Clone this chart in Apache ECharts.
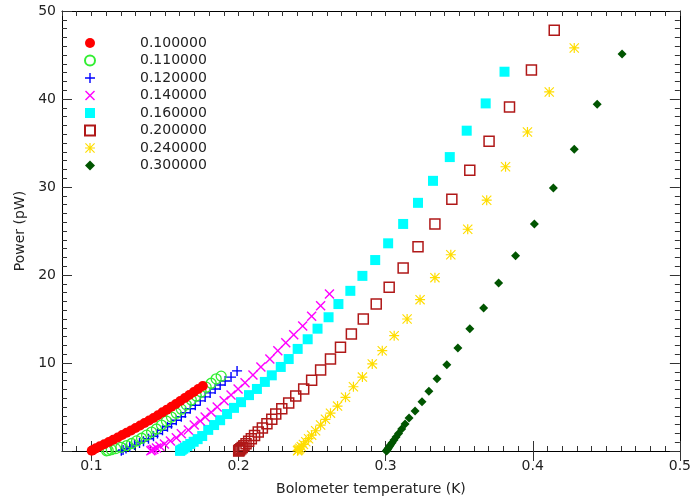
<!DOCTYPE html>
<html>
<head>
<meta charset="utf-8">
<script src="https://cdn.jsdelivr.net/npm/echarts@6/dist/echarts.min.js"></script>
<style>
  html, body { margin: 0; padding: 0; background: #fff; }
  #main { width: 694px; height: 502px; }
</style>
</head>
<body>
<div id="main"></div>
<script>
// bath temperatures (legend)
var names = ['0.100000', '0.110000', '0.120000', '0.140000', '0.160000', '0.200000', '0.240000', '0.300000'];
var xMajor = [0.1, 0.2, 0.3, 0.4, 0.5];

// [bolometer temperature (K), power (pW)]
var s010 = [[0.1002,0.02],[0.1010,0.10],[0.1030,0.30],[0.1057,0.53],[0.1087,0.77],[0.1118,1.02],[0.1148,1.27],[0.1179,1.53],
  [0.1209,1.82],[0.1239,2.07],[0.1270,2.34],[0.1300,2.61],[0.1331,2.90],[0.1361,3.18],[0.1392,3.47],[0.1422,3.76],
  [0.1452,4.07],[0.1483,4.39],[0.1513,4.70],[0.1544,5.02],[0.1574,5.34],[0.1604,5.68],[0.1635,6.02],[0.1665,6.36],
  [0.1696,6.70],[0.1726,7.05],[0.1757,7.39]];
var s011 = [[0.1103,0.02],[0.1114,0.07],[0.1135,0.15],[0.1165,0.27],[0.1200,0.42],[0.1240,0.62],[0.1273,0.85],[0.1307,1.15],
  [0.1341,1.45],[0.1375,1.80],[0.1409,2.15],[0.1442,2.50],[0.1476,2.95],[0.1510,3.40],[0.1544,3.85],[0.1577,4.30],
  [0.1611,4.75],[0.1645,5.25],[0.1679,5.80],[0.1713,6.25],[0.1746,6.70],[0.1780,7.25],[0.1814,7.70],[0.1848,8.20],
  [0.1882,8.50]];
var s012 = [[0.1203,0.03],[0.1215,0.12],[0.1235,0.27],[0.1260,0.45],[0.1293,0.68],[0.1327,0.92],[0.1354,1.12],[0.1388,1.40],
  [0.1422,1.68],[0.1449,1.98],[0.1483,2.35],[0.1517,2.75],[0.1544,3.10],[0.1577,3.50],[0.1611,3.90],[0.1638,4.35],
  [0.1672,4.80],[0.1706,5.20],[0.1740,5.70],[0.1773,6.15],[0.1807,6.60],[0.1841,7.05],[0.1875,7.50],[0.1909,7.95],
  [0.1949,8.40],[0.1990,9.10]];
var s014 = [[0.1404,0.03],[0.1412,0.10],[0.1424,0.20],[0.1442,0.35],[0.1466,0.55],[0.1496,0.80],[0.1537,1.15],[0.1577,1.50],
  [0.1611,1.95],[0.1659,2.40],[0.1699,2.95],[0.1740,3.40],[0.1773,3.85],[0.1814,4.40],[0.1855,5.00],[0.1902,5.70],
  [0.1949,6.35],[0.1997,7.05],[0.2044,7.75],[0.2098,8.65],[0.2152,9.55],[0.2213,10.45],[0.2267,11.40],[0.2321,12.30],
  [0.2375,13.20],[0.2436,14.20],[0.2497,15.30],[0.2558,16.50],[0.2618,17.85]];
var s016 = [[0.1602,0.02],[0.1606,0.07],[0.1614,0.15],[0.1624,0.26],[0.1636,0.40],[0.1652,0.58],[0.1672,0.80],[0.1695,1.05],
  [0.1722,1.35],[0.1753,1.70],[0.1794,2.40],[0.1834,2.95],[0.1875,3.50],[0.1922,4.20],[0.1969,4.90],[0.2017,5.55],
  [0.2071,6.35],[0.2125,7.05],[0.2179,7.85],[0.2226,8.60],[0.2287,9.55],[0.2341,10.45],[0.2402,11.60],[0.2470,12.70],
  [0.2537,13.90],[0.2612,15.20],[0.2679,16.70],[0.2760,18.20],[0.2842,19.90],[0.2929,21.70],[0.3017,23.60],[0.3119,25.80],
  [0.3220,28.20],[0.3322,30.70],[0.3436,33.40],[0.3551,36.40],[0.3680,39.50],[0.3808,43.10]];
var s020 = [[0.2001,0.01],[0.2003,0.05],[0.2008,0.13],[0.2016,0.25],[0.2025,0.40],[0.2037,0.60],[0.2051,0.82],[0.2069,1.10],
  [0.2087,1.40],[0.2109,1.75],[0.2134,2.15],[0.2162,2.60],[0.2193,3.10],[0.2226,3.60],[0.2253,4.20],[0.2294,4.80],
  [0.2341,5.45],[0.2389,6.25],[0.2443,7.05],[0.2497,8.05],[0.2558,9.20],[0.2625,10.45],[0.2693,11.80],[0.2767,13.30],
  [0.2848,15.00],[0.2936,16.70],[0.3024,18.60],[0.3119,20.80],[0.3220,23.20],[0.3335,25.80],[0.3450,28.60],[0.3572,31.90],
  [0.3703,35.20],[0.3842,39.10],[0.3991,43.30],[0.4146,47.80]];
var s024 = [[0.2401,0.02],[0.2404,0.08],[0.2410,0.18],[0.2417,0.32],[0.2427,0.50],[0.2441,0.75],[0.2457,1.05],[0.2476,1.40],
  [0.2497,1.80],[0.2524,2.30],[0.2558,2.95],[0.2591,3.60],[0.2625,4.30],[0.2673,5.10],[0.2727,6.10],[0.2781,7.30],
  [0.2842,8.40],[0.2909,9.90],[0.2977,11.40],[0.3058,13.10],[0.3146,15.00],[0.3234,17.20],[0.3335,19.70],[0.3443,22.30],
  [0.3558,25.20],[0.3687,28.50],[0.3815,32.30],[0.3964,36.25],[0.4112,40.80],[0.4282,45.80]];
var s030 = [[0.3005,0.01],[0.3007,0.04],[0.3009,0.10],[0.3013,0.20],[0.3019,0.33],[0.3026,0.50],[0.3034,0.70],[0.3044,0.95],
  [0.3057,1.25],[0.3071,1.60],[0.3088,2.00],[0.3109,2.50],[0.3132,3.07],[0.3159,3.75],[0.3200,4.55],[0.3247,5.60],
  [0.3294,6.80],[0.3349,8.20],[0.3416,9.80],[0.3491,11.70],[0.3572,13.90],[0.3666,16.25],[0.3768,19.10],[0.3883,22.20],
  [0.4011,25.80],[0.4140,29.90],[0.4282,34.30],[0.4438,39.40],[0.4607,45.10]];

var FONT = 'DejaVu Sans';
var TXT = '#222';

// IDL style plot symbols
var PLUS = 'path://M4.3,0H5.7V4.3H10V5.7H5.7V10H4.3V5.7H0V4.3H4.3Z';
var CROSS = 'path://M0,1L1,0L5,4L9,0L10,1L6,5L10,9L9,10L5,6L1,10L0,9L4,5Z';
var STAR = 'path://M4.4,0H5.6V10H4.4Z M0,4.4H10V5.6H0Z M0.8,0L10,9.2L9.2,10L0,0.8Z M9.2,0L10,0.8L0.8,10L0,9.2Z';

function mk(name, data, symbol, size, style) {
  style.opacity = 1;
  return {
    name: name, type: 'scatter', data: data,
    symbol: symbol, symbolSize: size,
    itemStyle: style,
    emphasis: { disabled: true },
    animation: false
  };
}

var isMajor = function (v) { return Math.abs(v * 10 - Math.round(v * 10)) < 1e-6; };

var xBase = { type: 'value', min: 0.08, max: 0.5, gridIndex: 0, splitLine: { show: false } };
var tickStyle = { color: '#333', width: 1 };

var myChart = echarts.init(document.getElementById('main'));
var option = {
  backgroundColor: '#fff',
  animation: false,
  textStyle: { fontFamily: FONT },
  grid: { left: 62, right: 11, top: 11, bottom: 51, containLabel: false },
  legend: {
    orient: 'vertical', left: 79, top: 31,
    itemWidth: 10, itemHeight: 10, itemGap: 3.5,
    data: names,
    selectedMode: false,
    textStyle: { fontFamily: FONT, fontSize: 14, color: TXT, padding: [0, 0, 0, 40] }
  },
  xAxis: [
    Object.assign({}, xBase, {
      position: 'bottom', interval: 0.01,
      axisLine: { show: true, onZero: false, lineStyle: { color: '#000' } },
      axisTick: { inside: true, length: 5, lineStyle: tickStyle },
      axisLabel: { margin: 8, fontSize: 14, color: TXT, fontFamily: FONT,
        formatter: function (v) { return isMajor(v) ? v.toFixed(1) : ''; } },
      name: 'Bolometer temperature (K)', nameLocation: 'middle', nameGap: 31,
      nameTextStyle: { fontSize: 14, color: TXT, fontFamily: FONT }
    }),
    Object.assign({}, xBase, {
      position: 'bottom', axisLine: { show: false },
      axisTick: { inside: true, length: 10, lineStyle: tickStyle, customValues: xMajor },
      axisLabel: { show: false }
    }),
    Object.assign({}, xBase, {
      position: 'top', interval: 0.01,
      axisLine: { show: true, onZero: false, lineStyle: { color: '#000' } },
      axisTick: { inside: true, length: 5, lineStyle: tickStyle },
      axisLabel: { show: false }
    }),
    Object.assign({}, xBase, {
      position: 'top', axisLine: { show: false },
      axisTick: { inside: true, length: 10, lineStyle: tickStyle, customValues: xMajor },
      axisLabel: { show: false }
    })
  ],
  yAxis: [
    {
      type: 'value', min: 0, max: 50, interval: 10, position: 'left',
      axisLine: { show: true, onZero: false, lineStyle: { color: '#000' } },
      axisTick: { inside: true, length: 10, lineStyle: tickStyle },
      minorTick: { show: true, splitNumber: 10, length: 5, lineStyle: tickStyle },
      splitLine: { show: false },
      axisLabel: { margin: 6, fontSize: 14, color: TXT, fontFamily: FONT,
        formatter: function (v) { return v === 0 ? '' : String(v); } },
      name: 'Power (pW)', nameLocation: 'middle', nameGap: 35, nameRotate: 90,
      nameTextStyle: { fontSize: 14, color: TXT, fontFamily: FONT }
    },
    {
      type: 'value', min: 0, max: 50, interval: 10, position: 'right',
      axisLine: { show: true, onZero: false, lineStyle: { color: '#000' } },
      axisTick: { inside: true, length: 10, lineStyle: tickStyle },
      minorTick: { show: true, splitNumber: 10, length: 5, lineStyle: tickStyle },
      splitLine: { show: false },
      axisLabel: { show: false }
    }
  ],
  // drawn from highest bath temperature down so 0.1 ends up on top
  series: [
    mk(names[7], s030, 'diamond', 9, { color: '#005500' }),
    mk(names[6], s024, STAR, 10, { color: '#ffdd00' }),
    mk(names[5], s020, 'rect', 10, { color: 'transparent', borderColor: '#b01818', borderWidth: 1.5 }),
    mk(names[4], s016, 'rect', 10, { color: '#00ffff' }),
    mk(names[3], s014, CROSS, 10, { color: '#ff00ff' }),
    mk(names[2], s012, PLUS, 10, { color: '#0000ff' }),
    mk(names[1], s011, 'circle', 10, { color: 'transparent', borderColor: '#33ee33', borderWidth: 1.3 }),
    mk(names[0], s010, 'circle', 10, { color: '#ff0000' })
  ]
};
myChart.setOption(option);
</script>
</body>
</html>
